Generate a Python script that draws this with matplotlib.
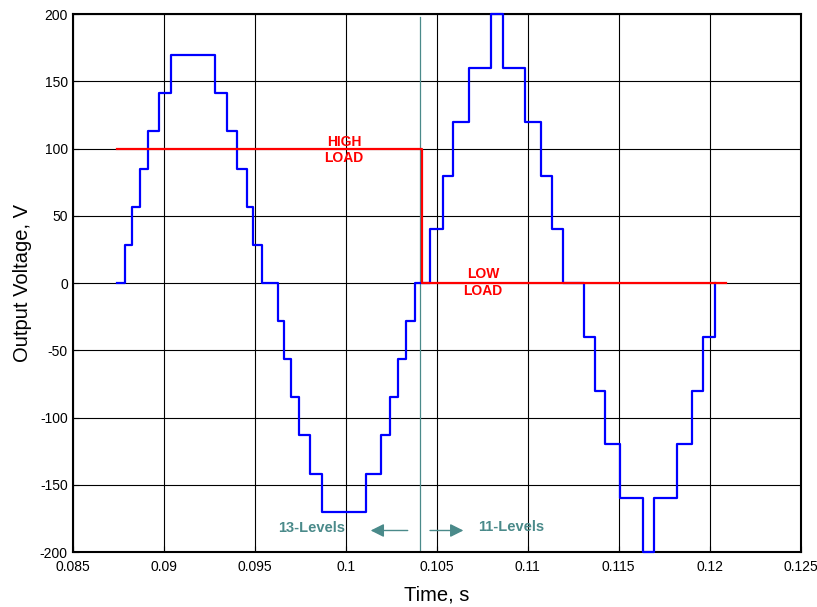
import numpy as np
from matplotlib import pyplot as plt

# switching instants of the inverter output (s) and the level after each instant (V)
t_edges = [0.08743, 0.08789, 0.08828, 0.08868, 0.08916, 0.08973, 0.09039,
           0.09282, 0.09348, 0.09405, 0.09455, 0.09493, 0.09539,
           0.09627, 0.09661, 0.09698, 0.09746, 0.09804, 0.09869,
           0.10114, 0.10195, 0.10241, 0.10285, 0.10332, 0.10380,
           0.10466, 0.10532, 0.10589, 0.10677, 0.10799,
           0.10864, 0.10986, 0.11074, 0.11133, 0.11194,
           0.11311, 0.11369, 0.11423, 0.11505, 0.11633,
           0.11695, 0.11819, 0.11904, 0.11962, 0.12028]
v_levels = [0, 28.3, 56.7, 85, 113.3, 141.7, 170,
            141.7, 113.3, 85, 56.7, 28.3, 0,
            -28.3, -56.7, -85, -113.3, -141.7, -170,
            -141.7, -113.3, -85, -56.7, -28.3, 0,
            40, 80, 120, 160, 200,
            160, 120, 80, 40, 0,
            -40, -80, -120, -160, -200,
            -160, -120, -80, -40, 0]

# load signal
load_t = [0.08743, 0.10417, 0.12088]
load_v = [100, 0, 0]

t_switch = 0.1041
xticks = [0.085, 0.09, 0.095, 0.1, 0.105, 0.11, 0.115, 0.12, 0.125]
yticks = [-200, -150, -100, -50, 0, 50, 100, 150, 200]

plt.rcParams['font.family'] = ['Liberation Sans', 'DejaVu Sans']
plt.rcParams['axes.unicode_minus'] = False
teal = '#4a8a8a'

fig = plt.figure(figsize=(8.17, 6.07), dpi=100)
ax = fig.add_axes([0.089, 0.0906, 0.891, 0.886])

ax.step(t_edges, v_levels, where='post', color='#0000ff', lw=1.6, clip_on=False, zorder=3)
ax.step(load_t, load_v, where='post', color='#ff0000', lw=1.6, zorder=4)
ax.plot([t_switch, t_switch], [198, -200], color=teal, lw=0.9, zorder=2)

ax.text(0.0999, 99, 'HIGH\nLOAD', color='#ff0000', fontsize=10, fontweight='bold',
        ha='center', va='center', linespacing=1.2, zorder=5)
ax.text(0.10755, 0.4, 'LOW\nLOAD', color='#ff0000', fontsize=10, fontweight='bold',
        ha='center', va='center', linespacing=1.2, zorder=5)
ax.text(0.09814, -182.5, '13-Levels', color=teal, fontsize=10.5, fontweight='bold',
        ha='center', va='center')
ax.text(0.10910, -181.3, '11-Levels', color=teal, fontsize=10.5, fontweight='bold',
        ha='center', va='center')
ax.annotate('', xy=(0.10122, -184), xytext=(0.10356, -184),
            arrowprops=dict(arrowstyle='-|>', color=teal, lw=1, mutation_scale=20))
ax.annotate('', xy=(0.10662, -184), xytext=(0.10448, -184),
            arrowprops=dict(arrowstyle='-|>', color=teal, lw=1, mutation_scale=20))

ax.set_xlim(0.085, 0.125)
ax.set_ylim(-200, 200)
ax.set_xticks(xticks)
ax.set_xticklabels(['%g' % x for x in xticks])
ax.set_yticks(yticks)
ax.tick_params(direction='in', labelsize=10, length=4)
ax.tick_params(axis='x', pad=6)
ax.grid(True, color='black', lw=0.8)
ax.set_axisbelow(True)
for s in ax.spines.values():
    s.set_linewidth(1.5)
ax.set_xlabel('Time, s', fontsize=14.5, labelpad=8)
ax.set_ylabel('Output Voltage, V', fontsize=14.5, labelpad=6)

plt.savefig('out.png')
